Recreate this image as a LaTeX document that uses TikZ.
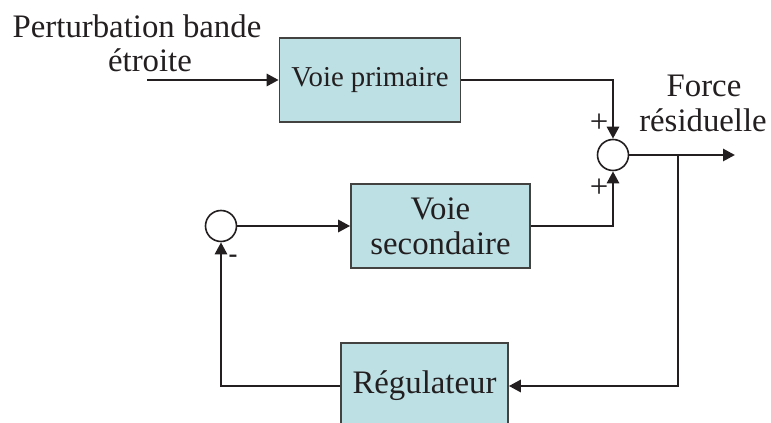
\documentclass[tikz,border=0pt]{standalone}
\usepackage{fontspec}
\setmainfont{Liberation Serif}
\usetikzlibrary{arrows.meta}
\definecolor{boxfill}{RGB}{188,224,228}
\definecolor{ink}{RGB}{35,31,32}
\begin{document}
\begin{tikzpicture}[x=0.75pt,y=-0.75pt,
  txt/.style={font=\fontsize{24.6}{27}\selectfont, text=ink, inner sep=0pt},
  blockbox/.style={draw=ink!85, line width=1.2pt, fill=boxfill, text=ink,
    minimum width=178*0.75pt, minimum height=84*0.75pt, inner sep=0pt,
    align=center, font=\fontsize{24.6}{27}\selectfont},
  sumnode/.style={circle, draw=ink, line width=1.2pt, fill=white,
    minimum size=31*0.75pt, inner sep=0pt},
  conn/.style={draw=ink, line width=2.1pt},
  arr/.style={conn, -{Triangle[length=9pt,width=9pt]}}]
\useasboundingbox (0,0) rectangle (771,423);
% blocks
\node[blockbox, minimum width=181*0.75pt, font=\fontsize{21.6}{24}\selectfont] (vp) at (370,80) {Voie primaire};
\node[blockbox, minimum width=179*0.75pt] (vs) at (440.5,226) {Voie\\[-1pt]secondaire};
\node[blockbox, minimum width=167*0.75pt, minimum height=86*0.75pt] (reg) at (424.5,386) {Régulateur};
% summing junctions
\node[sumnode] (s1) at (613,155) {};
\node[sumnode] (s2) at (221,226) {};
% free ends
\coordinate (in) at (147,80);
\coordinate (out) at (735,155);
\coordinate (br) at (678,155);
% texts
\node[txt, anchor=base] (p1) at (137,38) {Perturbation bande};
\node[txt, anchor=base] (p2) at (150,72) {étroite};
\node[txt, anchor=base] (f1) at (704,97) {Force};
\node[txt, anchor=base] (f2) at (703,132) {résiduelle};
\node[txt, anchor=base] (plus1) at (599,133) {+};
\node[txt, anchor=base] (plus2) at (599,198) {+};
\node[font=\bfseries\fontsize{20}{22}\selectfont, text=ink, inner sep=0pt] (minus) at (233,259) {-};
% connectors
\draw[arr] (in) -- (vp.west);
\draw[arr] (vp.east) -| (s1.north);
\draw[arr] (vs.east) -| (s1.south);
\draw[arr] (s1.east) -- (out);
\draw[arr] (br) |- (reg.east);
\draw[arr] (reg.west) -| (s2.south);
\draw[arr] (s2.east) -- (vs.west);
\end{tikzpicture}
\end{document}
